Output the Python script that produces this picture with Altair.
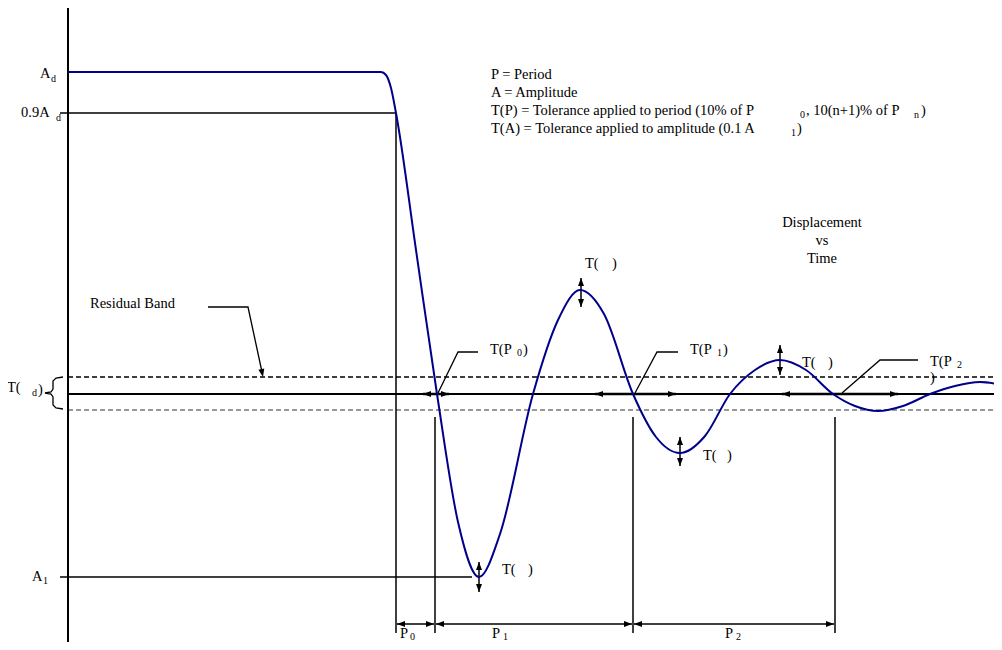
import altair as alt
import pandas as pd

# ---------------- data (x = time, y = displacement; baseline = 0) ----------------
curve_t = [68, 381, 386, 391, 396, 416, 437, 458, 479, 500, 533, 558, 580, 604, 633,
           656, 680, 705, 730, 755, 780, 806, 833, 855, 878, 903, 930, 955, 980, 1002]
curve_d = [322, 322, 319, 306, 281, 144, 0, -128, -183, -140, 0, 74, 104, 80, 0,
           -43, -59, -42, 0, 24, 34, 24, 0, -12, -17, -12, 0, 8, 12, 9]

# solid reference lines / dimension lines
rule_x1 = [68, 60, 60, 68, 396, 435, 633, 835, 397, 436, 634, 423, 595, 782, 479, 581, 680, 780]
rule_x2 = [68, 396, 472, 1002, 396, 435, 633, 835, 434, 632, 834, 449, 676, 898, 479, 581, 680, 780]
rule_y1 = [386, 281, -183, 0, 281, -23, -23, -23, -230, -230, -230, 0, 0, 0, -168, 116, -43, 49]
rule_y2 = [-248, 281, -183, 0, -239, -239, -239, -239, -230, -230, -230, 0, 0, 0, -198, 87, -72, 19]
rule_w = [2, 1.5, 1.5, 2, 1.5, 1.5, 1.5, 1.5, 1.5, 1.5, 1.5, 2.5, 2.5, 2.5, 1.5, 1.5, 1.5, 1.5]

# residual band (dashed)
band_y = [17, -16]
band_color = ["#000000", "#777777"]

# leader lines and brace
poly_g = ["res"] * 3 + ["p0"] * 3 + ["p1"] * 3 + ["p2"] * 3 + ["brace"] * 11
poly_x = [208, 248, 262, 438, 458, 478, 635, 657, 678, 842, 880, 918,
          63, 56, 53, 53, 51, 45, 51, 53, 53, 56, 63]
poly_y = [87, 87, 22, 1, 42, 42, 1, 42, 42, 1, 34, 34,
          17, 16, 13, 5, 2, 1, 0, -3, -11, -14, -15]

# arrow heads (tip position and direction)
head_x = [263, 423, 449, 595, 676, 782, 898, 479, 479, 581, 581, 680, 680, 780, 780,
          397, 434, 436, 632, 634, 834]
head_y = [17, 0, 0, 0, 0, 0, 0, -168, -198, 116, 87, -43, -72, 49, 19,
          -230, -230, -230, -230, -230, -230]
head_a = [168, 270, 90, 270, 90, 270, 90, 0, 180, 0, 180, 0, 180, 0, 180,
          270, 90, 270, 90, 270, 90]

# labels
MAIN, SUB = 14.5, 10
text_s = ["A", "d", "0.9A", "d", "A", "1", "T(", "d", ")", "Residual Band",
          "P = Period", "A = Amplitude",
          "T(P) = Tolerance applied to period (10% of P", "0", ", 10(n+1)% of P", "n", ")",
          "T(A) = Tolerance applied to amplitude  (0.1 A", "1", ")",
          "T(P", "0", ")", "T(P", "1", ")", "T(P", "2", ")",
          "T(", ")", "T(", ")", "T(", ")", "T(", ")",
          "P", "0", "P", "1", "P", "2"]
text_x = [40, 51, 21, 56, 32, 43, 7, 32, 38, 90,
          491, 491,
          491, 800, 806, 914, 921,
          491, 791, 797,
          490, 517, 523, 690, 717, 723, 930, 957, 930,
          585, 612, 502, 528, 703, 727, 802, 828,
          400, 410, 492, 503, 725, 736]
text_y = [320, 315, 281, 276, -183, -187, 6, 1, 4, 90,
          319, 301,
          283, 279, 283, 279, 283,
          265, 261, 265,
          44, 41, 44, 44, 41, 44, 32, 29, 16,
          130, 130, -176, -176, -62, -62, 31, 31,
          -240, -243, -240, -243, -240, -243]
text_f = [MAIN, SUB, MAIN, SUB, MAIN, SUB, MAIN, SUB, MAIN, MAIN,
          MAIN, MAIN,
          MAIN, SUB, MAIN, SUB, MAIN,
          MAIN, SUB, MAIN,
          MAIN, SUB, MAIN, MAIN, SUB, MAIN, MAIN, SUB, MAIN,
          MAIN, MAIN, MAIN, MAIN, MAIN, MAIN, MAIN, MAIN,
          MAIN, SUB, MAIN, SUB, MAIN, SUB]

title_s = ["Displacement", "vs", "Time"]
title_x = [822, 822, 822]
title_y = [171, 153, 135]

# ---------------- chart ----------------
X_DOMAIN = [8, 994]
Y_DOMAIN = [-248, 386]
FONT = "Liberation Serif, Times New Roman, serif"


def X(f="x"):
    return alt.X(f"{f}:Q", scale=alt.Scale(domain=X_DOMAIN, nice=False, zero=False), axis=None)


def Y(f="y"):
    return alt.Y(f"{f}:Q", scale=alt.Scale(domain=Y_DOMAIN, nice=False, zero=False), axis=None)


rules_df = pd.DataFrame({"x": rule_x1, "x2": rule_x2, "y": rule_y1, "y2": rule_y2, "w": rule_w})
rules = alt.Chart(rules_df).mark_rule(color="black").encode(
    x=X(), x2="x2:Q", y=Y(), y2="y2:Q", strokeWidth=alt.StrokeWidth("w:Q", scale=None)
)

band_df = pd.DataFrame({"y": band_y, "c": band_color, "x": [68, 68], "x2": [1002, 1002]})
band = alt.Chart(band_df).mark_rule(strokeDash=[5, 3], strokeWidth=1.3).encode(
    x=X(), x2="x2:Q", y=Y(), color=alt.Color("c:N", scale=None)
)

poly_df = pd.DataFrame({"g": poly_g, "x": poly_x, "y": poly_y, "o": list(range(len(poly_x)))})
polys = alt.Chart(poly_df).mark_line(color="black", strokeWidth=1.3).encode(
    x=X(), y=Y(), detail="g:N", order="o:Q"
)

curve_df = pd.DataFrame({"x": curve_t, "y": curve_d})
curve = alt.Chart(curve_df).mark_line(color="#00008b", strokeWidth=2, interpolate="monotone").encode(
    x=X(), y=Y()
)

head_df = pd.DataFrame({"x": head_x, "y": head_y, "a": head_a})
heads = alt.Chart(head_df).mark_point(
    shape="M0,0L0.75,2L-0.75,2Z", filled=True, size=64, color="black", opacity=1, strokeWidth=0
).encode(x=X(), y=Y(), angle=alt.Angle("a:Q", scale=None))

text_df = pd.DataFrame({"s": text_s, "x": text_x, "y": text_y, "f": text_f})
texts = alt.Chart(text_df).mark_text(
    align="left", baseline="middle", font=FONT, color="black"
).encode(x=X(), y=Y(), text="s:N", size=alt.Size("f:Q", scale=None))

title_df = pd.DataFrame({"s": title_s, "x": title_x, "y": title_y})
titles = alt.Chart(title_df).mark_text(
    align="center", baseline="middle", font=FONT, color="black", fontSize=MAIN
).encode(x=X(), y=Y(), text="s:N")

chart = alt.layer(band, rules, polys, curve, heads, texts, titles).properties(
    width=986, height=634, padding=0, autosize=alt.AutoSizeParams(type="none")
).configure_view(stroke=None)

chart.save("out.html", embed_options={"renderer": "svg", "actions": False})
